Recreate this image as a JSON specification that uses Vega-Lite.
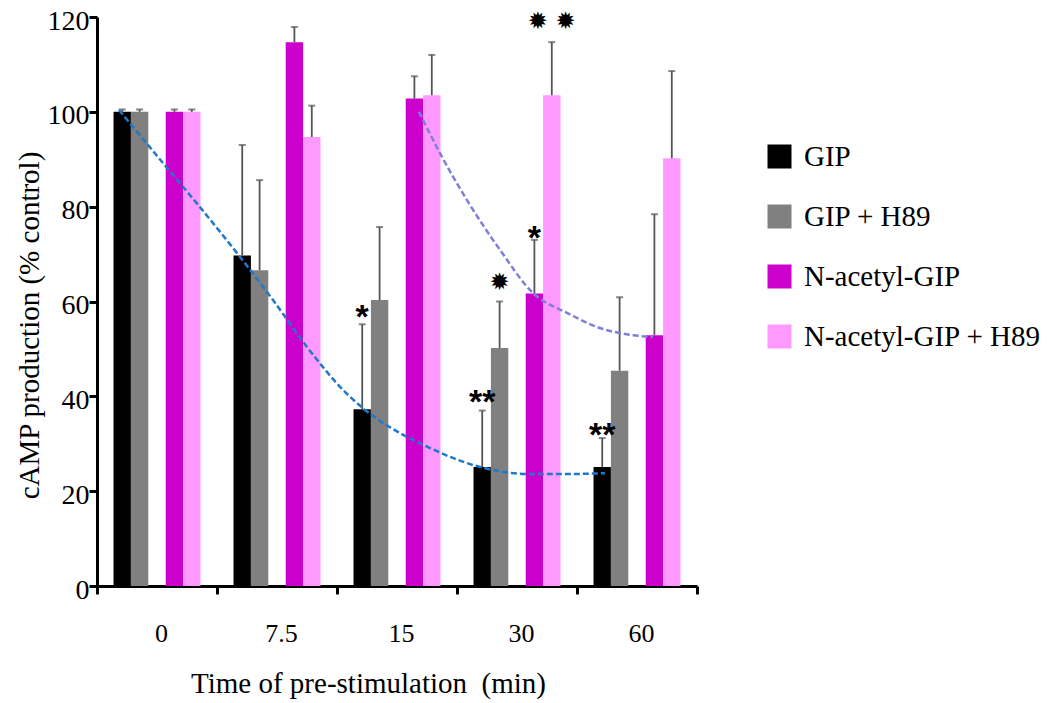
{
  "$schema": "https://vega.github.io/schema/vega-lite/v6.json",
  "width": 600,
  "height": 569,
  "autosize": {"type": "none"},
  "padding": {"left": 97, "top": 17, "right": 358, "bottom": 117},
  "background": "white",
  "config": {"view": {"stroke": null}, "font": "Liberation Serif"},
  "datasets": {
    "bars": [
      {"time": "0", "series": "GIP", "value": 100, "err": 100.5},
      {"time": "0", "series": "GIP + H89", "value": 100, "err": 100.5},
      {"time": "0", "series": "N-acetyl-GIP", "value": 100, "err": 100.5},
      {"time": "0", "series": "N-acetyl-GIP + H89", "value": 100, "err": 100.5},
      {"time": "7.5", "series": "GIP", "value": 69.7, "err": 93.0},
      {"time": "7.5", "series": "GIP + H89", "value": 66.6, "err": 85.6},
      {"time": "7.5", "series": "N-acetyl-GIP", "value": 114.7, "err": 117.9},
      {"time": "7.5", "series": "N-acetyl-GIP + H89", "value": 94.7, "err": 101.3},
      {"time": "15", "series": "GIP", "value": 37.3, "err": 55.2},
      {"time": "15", "series": "GIP + H89", "value": 60.3, "err": 75.7},
      {"time": "15", "series": "N-acetyl-GIP", "value": 102.8, "err": 107.5},
      {"time": "15", "series": "N-acetyl-GIP + H89", "value": 103.5, "err": 112.0},
      {"time": "30", "series": "GIP", "value": 25.1, "err": 37.0},
      {"time": "30", "series": "GIP + H89", "value": 50.2, "err": 60.0},
      {"time": "30", "series": "N-acetyl-GIP", "value": 61.7, "err": 73.0},
      {"time": "30", "series": "N-acetyl-GIP + H89", "value": 103.5, "err": 114.7},
      {"time": "60", "series": "GIP", "value": 25.1, "err": 31.2},
      {"time": "60", "series": "GIP + H89", "value": 45.4, "err": 60.9},
      {"time": "60", "series": "N-acetyl-GIP", "value": 52.9, "err": 78.4},
      {"time": "60", "series": "N-acetyl-GIP + H89", "value": 90.2, "err": 108.6}
    ],
    "asterisks": [
      {"time": "15", "series": "GIP", "label": "*", "value": 58.6},
      {"time": "30", "series": "GIP", "label": "**", "value": 40.7},
      {"time": "60", "series": "GIP", "label": "**", "value": 33.7},
      {"time": "30", "series": "N-acetyl-GIP", "label": "*", "value": 75.3}
    ],
    "stars": [
      {"time": "30", "series": "GIP + H89", "label": "✹", "value": 64.1},
      {"time": "30", "series": "N-acetyl-GIP + H89", "label": "✹ ✹", "value": 119.1}
    ],
    "blueCurve": [
      {"u": 0.183, "value": 100.4},
      {"u": 0.55, "value": 89.2},
      {"u": 0.858, "value": 79.9},
      {"u": 1.192, "value": 69.4},
      {"u": 1.467, "value": 60.3},
      {"u": 1.75, "value": 50.4},
      {"u": 2.092, "value": 40.3},
      {"u": 2.217, "value": 37.5},
      {"u": 2.775, "value": 29.1},
      {"u": 3.192, "value": 25.1},
      {"u": 3.608, "value": 23.6},
      {"u": 3.883, "value": 23.6},
      {"u": 4.233, "value": 23.8}
    ],
    "purpleCurve": [
      {"u": 2.683, "value": 100.0},
      {"u": 2.858, "value": 91.3},
      {"u": 3.083, "value": 81.4},
      {"u": 3.358, "value": 70.9},
      {"u": 3.633, "value": 61.8},
      {"u": 3.917, "value": 57.6},
      {"u": 4.192, "value": 54.4},
      {"u": 4.467, "value": 52.9},
      {"u": 4.633, "value": 52.5}
    ]
  },
  "resolve": {"scale": {"x": "independent"}, "axis": {"x": "independent"}},
  "layer": [
    {
      "layer": [
        {
          "data": {"name": "bars"},
          "mark": {"type": "bar"},
          "encoding": {
            "x": {
              "field": "time", "type": "nominal",
              "scale": {"domain": ["0", "7.5", "15", "30", "60"], "paddingInner": 0, "paddingOuter": 0},
              "axis": {
                "title": "Time of pre-stimulation\u00a0 (min)",
                "labelAngle": 0, "tickBand": "extent", "tickSize": 8, "tickWidth": 3,
                "domainWidth": 3, "domainColor": "black", "tickColor": "black",
                "labelFont": "Liberation Serif", "labelFontSize": 26, "labelColor": "black",
                "labelBaseline": "middle", "labelPadding": 39, "labelOffset": 4,
                "titleFont": "Liberation Serif", "titleFontSize": 29, "titleFontWeight": "normal",
                "titleColor": "black", "titleX": 271, "titleY": 97, "titleBaseline": "middle"
              }
            },
            "xOffset": {
              "field": "series", "type": "nominal",
              "scale": {"domain": ["GIP", "GIP + H89", "gap", "N-acetyl-GIP", "N-acetyl-GIP + H89"], "paddingInner": 0, "paddingOuter": 0.95}
            },
            "y": {
              "field": "value", "type": "quantitative",
              "scale": {"domain": [0, 120]},
              "axis": {
                "title": "cAMP production (% control)",
                "values": [0, 20, 40, 60, 80, 100, 120],
                "grid": false, "tickSize": 8, "tickWidth": 3, "domainWidth": 3,
                "domainColor": "black", "tickColor": "black",
                "labelFont": "Liberation Serif", "labelFontSize": 28, "labelColor": "black",
                "labelPadding": 0, "labelOffset": 4,
                "titleFont": "Liberation Serif", "titleFontSize": 29, "titleFontWeight": "normal",
                "titleColor": "black", "titleX": -68, "titleY": 308, "titleBaseline": "middle"
              }
            },
            "color": {
              "field": "series", "type": "nominal",
              "scale": {"domain": ["GIP", "GIP + H89", "N-acetyl-GIP", "N-acetyl-GIP + H89"], "range": ["#000000", "#808080", "#cc00cc", "#ff99ff"]},
              "legend": {
                "orient": "none", "legendX": 668, "legendY": 125, "title": null,
                "symbolType": "square", "symbolSize": 576, "symbolStrokeWidth": 0,
                "labelFont": "Liberation Serif", "labelFontSize": 29, "labelColor": "black",
                "labelOffset": 10, "rowPadding": 30, "labelLimit": 400, "padding": 0
              }
            }
          }
        },
        {
          "data": {"name": "bars"},
          "mark": {"type": "rule", "color": "#555555", "strokeWidth": 1.8},
          "encoding": {
            "x": {"field": "time", "type": "nominal", "scale": {"domain": ["0", "7.5", "15", "30", "60"]}},
            "xOffset": {"field": "series", "type": "nominal", "scale": {"domain": ["GIP", "GIP + H89", "gap", "N-acetyl-GIP", "N-acetyl-GIP + H89"]}},
            "y": {"field": "value", "type": "quantitative"},
            "y2": {"field": "err"}
          }
        },
        {
          "data": {"name": "bars"},
          "mark": {"type": "tick", "color": "#555555", "size": 7, "thickness": 2},
          "encoding": {
            "x": {"field": "time", "type": "nominal", "scale": {"domain": ["0", "7.5", "15", "30", "60"]}},
            "xOffset": {"field": "series", "type": "nominal", "scale": {"domain": ["GIP", "GIP + H89", "gap", "N-acetyl-GIP", "N-acetyl-GIP + H89"]}},
            "y": {"field": "err", "type": "quantitative"}
          }
        },
        {
          "mark": {"type": "rule", "color": "black", "strokeDash": [8, 4], "strokeWidth": 2.2},
          "encoding": {"y": {"datum": 100}}
        },
        {
          "data": {"name": "asterisks"},
          "mark": {"type": "text", "font": "Liberation Sans", "fontSize": 34, "fontWeight": "bold", "baseline": "alphabetic", "dy": 20, "color": "black"},
          "encoding": {
            "x": {"field": "time", "type": "nominal", "scale": {"domain": ["0", "7.5", "15", "30", "60"]}},
            "xOffset": {"field": "series", "type": "nominal", "scale": {"domain": ["GIP", "GIP + H89", "gap", "N-acetyl-GIP", "N-acetyl-GIP + H89"]}},
            "y": {"field": "value", "type": "quantitative"},
            "text": {"field": "label"}
          }
        },
        {
          "data": {"name": "stars"},
          "mark": {"type": "text", "font": "DejaVu Sans", "fontSize": 24, "baseline": "alphabetic", "dy": 8, "color": "black"},
          "encoding": {
            "x": {"field": "time", "type": "nominal", "scale": {"domain": ["0", "7.5", "15", "30", "60"]}},
            "xOffset": {"field": "series", "type": "nominal", "scale": {"domain": ["GIP", "GIP + H89", "gap", "N-acetyl-GIP", "N-acetyl-GIP + H89"]}},
            "y": {"field": "value", "type": "quantitative"},
            "text": {"field": "label"}
          }
        }
      ]
    },
    {
      "layer": [
        {
          "data": {"name": "blueCurve"},
          "mark": {"type": "line", "interpolate": "monotone", "color": "#1f78c8", "strokeWidth": 2.5, "strokeDash": [6, 3]},
          "encoding": {
            "x": {"field": "u", "type": "quantitative", "scale": {"domain": [0, 5]}, "axis": null},
            "y": {"field": "value", "type": "quantitative"}
          }
        },
        {
          "data": {"name": "purpleCurve"},
          "mark": {"type": "line", "interpolate": "monotone", "color": "#7f7fd8", "strokeWidth": 2.5, "strokeDash": [6, 3]},
          "encoding": {
            "x": {"field": "u", "type": "quantitative", "scale": {"domain": [0, 5]}, "axis": null},
            "y": {"field": "value", "type": "quantitative"}
          }
        }
      ]
    }
  ]
}
